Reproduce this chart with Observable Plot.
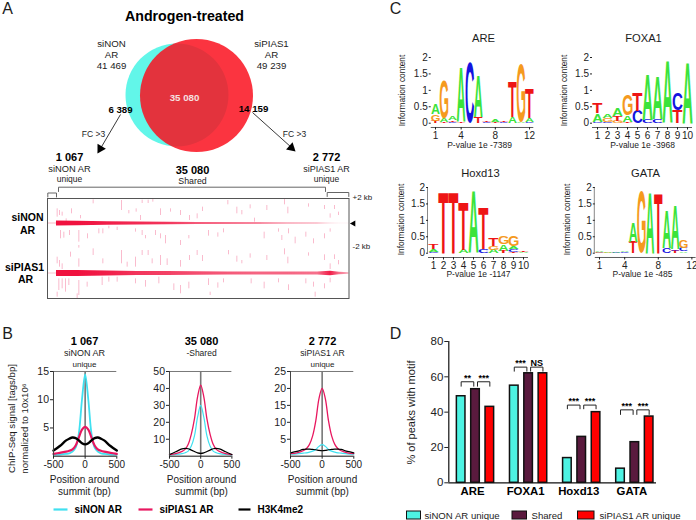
<!DOCTYPE html>
<html><head><meta charset="utf-8">
<style>html,body{margin:0;padding:0;background:#fff}#page{position:relative;width:696px;height:520px;overflow:hidden}</style>
<script src="https://cdn.jsdelivr.net/npm/d3@7"></script>
<script src="https://cdn.jsdelivr.net/npm/@observablehq/plot@0.6"></script>
</head><body><div id="page"></div>
<script>
const FONT = "Liberation Sans, Arial, sans-serif";

// ---- Panel B data: signal around summit
const positions = [-500,-400,-300,-250,-200,-150,-100,-50,0,50,100,150,200,250,300,400,500];
const b1Cyan  = [.3,.3,.4,.5,.8,1.5,4,10,14.5,10,4,1.5,.8,.5,.4,.3,.3];
const b1Pink  = [.4,.6,.8,.95,1.2,1.9,3.3,4.7,5.2,4.7,3.3,1.9,1.2,.95,.8,.6,.4];
const b1Black = [1,1.8,2.8,3.1,3.3,3.2,2.8,2.3,2.1,2.3,2.8,3.2,3.3,3.1,2.8,1.8,1];
const b2Cyan  = [.8,1,1.5,2,3,6,12,23,30,23,12,6,3,2,1.5,1,.8];
const b2Pink  = [.9,1.5,2.8,4,7,13,22,35,42,35,22,13,7,4,2.8,1.5,.9];
const b2Black = [1,2.6,4.3,4.6,4.4,3.6,2.8,2,1.7,2,2.8,3.6,4.4,4.6,4.3,2.6,1];
const b3Cyan  = [.6,.7,.9,1,1.2,1.5,2,2.9,3.4,2.9,2,1.5,1.2,1,.9,.7,.6];
const b3Pink  = [.8,1,1.6,2.2,3.5,6,10.5,17,20,17,10.5,6,3.5,2.2,1.6,1,.8];
const b3Black = [1,1.4,2,2.1,2.1,2,1.9,1.7,1.6,1.7,1.9,2,2.1,2.1,2,1.4,1];

// ---- Panel C data: motif stacks, bottom to top
const logoARE = [
 [["T",.07],["G",.2],["A",.33]],[["T",.05],["A",.1],["G",1.15]],[["C",.05],["T",.05],["A",.12]],
 [["T",.03],["A",1.67]],[["C",1.85]],[["T",.18],["A",1.25]],[["C",.03],["T",.04]],[["T",.04],["A",.06]],
 [["C",.03],["T",.04]],[["A",.2],["T",1.07]],[["A",.05],["G",1.75]],[["C",.05],["A",.12],["T",.9]]];
const logoFOXA1 = [
 [["C",.05],["A",.25],["T",.33]],[["C",.05],["G",.1],["A",.1]],[["G",.08],["T",.15],["A",.22]],
 [["T",.03],["A",.2],["G",.65]],[["C",.38],["T",.55]],[["C",.1],["A",1.4]],[["C",.12],["A",1.3]],
 [["A",1.88]],[["T",.38],["C",.52]],[["A",1.87]]];
const logoHoxd13 = [
 [["C",.05],["A",.08],["T",.17]],[["T",1.85]],[["T",1.85]],[["A",.1],["T",1.48]],[["A",1.88]],
 [["C",.12],["T",1.28]],[["A",.1],["G",.12],["T",.22]],[["T",.07],["A",.2],["G",.22]],
 [["T",.05],["C",.08],["A",.08],["G",.31]],[["A",.03],["T",.03]]];
const logoGATA = [
 [["C",.02],["G",.03],["A",.03]],[["G",.02],["A",.03]],[["C",.02],["A",.02]],[["C",.03],["A",.04]],
 [["T",.35],["A",.58]],[["G",1.88]],[["A",1.85]],[["T",1.83]],[["C",.17],["A",1.15]],
 [["T",.08],["C",.05],["A",1.34]],[["A",.05],["C",.1],["G",.22]]];
const letterColors = {A:"#3BE33B",C:"#1414E0",G:"#F59A1E",T:"#EE1515"};

// ---- Panel D data
const motifs = ["ARE","FOXA1","Hoxd13","GATA"];
const groups = ["siNON AR unique","Shared","siPIAS1 AR unique"];
const groupColors = ["#4DF3E3","#5A1A3E","#FF0000"];
const pctSiNON   = [49,55,14,8];
const pctShared  = [53,62,26,23];
const pctSiPIAS1 = [43,62,40,37.5];
const sigLabels = [["**","***"],["***","NS"],["***","***"],["***","***"]];
const sigTops = [57.2,65.5,44,41.3];
const sigFoots = [54.7,63.2,41.9,38.7];

// ---- Panel A heatmap: streaks [x, top, bottom]
const heatLeft = [
[35,40,65],[42,45,60],[50,50,62],[62,70,78],[78,40,55],[105,60,70],[143,13,25],[228,15,45],[250,45,55],[272,40,50],[285,60,75],[290,14,24],[308,14,24],[322,12,20],[345,40,60],[375,40,50],[405,45,60],[432,60,75],[455,55,70],
[45,105,130],[55,110,128],[72,105,120],[100,105,140],[126,115,130],[160,100,115],[172,100,115],[190,92,100],[215,95,105],[270,100,110],[290,105,120],[300,120,130],[330,105,120],[345,115,130],[360,120,145],[405,135,150],[430,120,130],[100,150,158],
[35,185,205],[42,195,215],[50,205,222],[75,170,185],[100,190,215],[143,160,180],[172,190,205],[228,165,205],[270,185,215],[245,200,215],[290,165,180],[308,165,180],[320,190,205],[345,180,210],[365,190,210],[405,195,215],[432,180,195],[455,165,180],
[40,250,285],[50,250,280],[60,250,290],[70,250,270],[100,255,300],[125,260,275],[170,245,270],[190,245,260],[215,245,260],[270,250,265],[300,255,275],[340,245,265],[385,265,285],[405,270,295],[430,260,280],[95,295,310],[35,290,305]];
const heatRight = [
[12,35,48],[88,15,28],[115,35,55],[130,45,58],[155,28,40],[205,30,45],[258,12,28],[268,35,55],[330,25,35],[378,30,42],[395,55,68],[408,30,42],[420,50,60],[168,68,80],
[30,105,122],[58,112,125],[75,100,112],[197,110,130],[240,100,110],[250,120,135],[270,100,115],[290,125,145],[322,110,125],[345,130,145],[378,115,130],[395,100,110],
[12,180,198],[90,165,178],[115,182,200],[130,195,205],[155,175,188],[205,180,195],[258,160,178],[268,185,205],[330,172,182],[378,178,195],[395,205,222],[408,178,192],[420,195,208],
[30,250,270],[58,262,278],[75,250,262],[158,250,265],[197,260,280],[240,250,262],[270,268,285],[322,250,265],[345,260,275],[378,265,280],[395,248,262],[35,290,300],[350,290,305]];
const bandStops  = [0,8.9,9,30,60,90,120,150,180,210,240,270,283,292,301.5];
const bandHalf1  = [.4,.4,2.6,2.3,1.7,1.4,1.2,1.1,1,.9,.8,.7,.5,.4,.4];
const bandAlpha1 = [.3,.3,1,1,.95,.9,.85,.7,.6,.5,.4,.3,.15,.06,.05];
const bandHalf2  = [.4,.4,3,2.9,2.4,2.1,1.9,1.8,1.6,1.5,1.5,1.4,2.2,1.2,.8];
const bandAlpha2 = [.25,.25,1,1,.95,.85,.8,.75,.7,.65,.65,.6,.95,.6,.35];

// ---- placement helper
const page = document.getElementById("page");
function place(plot, left, top){ plot.style.position="absolute"; plot.style.left=left+"px"; plot.style.top=top+"px"; page.appendChild(plot); return plot; }
const baseStyle = {background:"transparent", fontFamily:FONT, fontSize:"10px", color:"#222", overflow:"visible"};

// ---- Annotation layer (page coordinates)
const labels = [];
const L = (text,x,y,size,kind="regular") => labels.push({text,x,y,size,kind});
L("A",7,8,16); L("B",7,333,16); L("C",395,8,16); L("D",395,333,16);
L("Androgen-treated",184,16,14.2,"bold");
L("siNON",111,43,9.7); L("AR",111,54,9.7); L("41 469",111,65,9.7);
L("siPIAS1",271,43,9.7); L("AR",271,54,9.7); L("49 239",271,65,9.7);
L("6 389",120,109,9.7,"bold"); L("14 159",253,108,9.7,"bold");
L("FC >3",93,134,8.5); L("FC >3",294,134,8.5);
L("1 067",69,157,11,"bold"); L("siNON AR",69,169,9.3); L("unique",69,179,8.5);
L("35 080",192,170,11,"bold"); L("Shared",192,181,8.8);
L("2 772",326,157,11,"bold"); L("siPIAS1 AR",326,169,9); L("unique",326,179,8.5);
L("siNON",27,217,10.5,"bold"); L("AR",27,230,10.5,"bold");
L("siPIAS1",24,267,10.5,"bold"); L("AR",25,279,10.5,"bold");
L("1 067",84,341,11,"bold"); L("siNON AR",84,353,9); L("unique",84,363.5,8);
L("35 080",201,341,11,"bold"); L("-Shared",201,353,8.5);
L("2 772",322,341,11,"bold"); L("siPIAS1 AR",322,353,8.6); L("unique",322,363.5,8);
for (const cx of [84,201,322]) { L("Position around",cx,479,10); L("summit (bp)",cx,491,10); }
L("ARE",483,38,11.2); L("FOXA1",643,38,11.2); L("Hoxd13",480,173,11.2); L("GATA",645,173,11.2);
L("P-value 1e -7389",479,145,8.5); L("P-value 1e -3968",642,145,8.5);
L("P-value 1e -1147",478,274,8.5); L("P-value 1e -485",642,274,8.5);
const startLabels = [
 {text:"+2 kb",x:352,y:197,size:8},{text:"-2 kb",x:352,y:246,size:8},
 {text:"siNON AR",x:74,y:509,size:10,b:1},{text:"siPIAS1 AR",x:159,y:509,size:10,b:1},{text:"H3K4me2",x:257,y:509,size:10,b:1},
 {text:groups[0],x:424,y:515,size:9.6},{text:groups[1],x:531,y:515,size:9.6},{text:groups[2],x:599,y:515,size:9.6}];
const sideLabels = [
 {text:"ChIP-Seq signal [tags/bp]",x:11,y:418,size:9.6},
 {text:"normalized to 10x10⁶",x:24,y:428,size:9.6},
 {text:"Information content",x:402,y:90,size:8.4},{text:"Information content",x:564,y:90,size:8.4},
 {text:"Information content",x:401,y:219,size:8.4},{text:"Information content",x:567,y:219,size:8.4},
 {text:"% of peaks with motif",x:411,y:412,size:11}];

const brackets = [
 [[47.3,196.5],[47.3,192.5],[56,192.5],[56,196.5]],
 [[58,191],[58,186.7],[325,186.7],[325,191]],
 [[326.7,196],[326.7,192],[348.3,192],[348.3,196]]
].flatMap((pts,i)=>pts.map(([x,y])=>({x,y,i})));
const arrowShafts = [{x1:120,y1:114,x2:100,y2:148},{x1:252,y1:112,x2:291,y2:147}];
const arrowHeads = [{x:99.8,y:148.2,a:-149.5},{x:290.9,y:147.2,a:132}];
const legendLines = [
 {x1:53,x2:67,color:"#40E0F0"},{x1:138,x2:152,color:"#E8175F"},{x1:238,x2:250,color:"#000"}];
const legendBoxes = [{x1:406.5,x2:420.5,i:0},{x1:512,x2:526.5,i:1},{x1:577.5,x2:594,i:2}];

const textOpts = {x:"x",y:"y",text:"text",fontSize:d=>d.size,fontFamily:FONT,fill:"#1c1c1c"};
place(Plot.plot({
  width:696,height:520,margin:0,style:baseStyle,axis:null,
  x:{domain:[0,696],range:[0,696]}, y:{domain:[0,520],range:[0,520]},
  marks:[
    Plot.dot([{x:176.5,y:94.5}],{x:"x",y:"y",r:51.5,fill:"#62F6E9"}),
    Plot.dot([{x:196,y:95}],{x:"x",y:"y",r:56.5,fill:"#FA111E",fillOpacity:.85}),
    Plot.text([{x:184,y:97,text:"35 080"}],{x:"x",y:"y",text:"text",fontSize:9.7,fontWeight:"bold",fill:"#f6e0e0",fontFamily:FONT}),
    Plot.link(arrowShafts,{x1:"x1",y1:"y1",x2:"x2",y2:"y2",stroke:"#222",strokeWidth:.9}),
    Plot.dot(arrowHeads,{x:"x",y:"y",symbol:"triangle",r:3.6,rotate:"a",fill:"#000"}),
    Plot.line(brackets,{x:"x",y:"y",z:"i",stroke:"#666",strokeWidth:1,curve:"linear"}),
    Plot.dot([{x:353,y:223}],{x:"x",y:"y",symbol:"triangle",r:2.3,rotate:-90,fill:"#000"}),
    Plot.link(legendLines,{x1:"x1",x2:"x2",y1:()=>509,y2:()=>509,stroke:"color",strokeWidth:2.2}),
    Plot.rect(legendBoxes,{x1:"x1",x2:"x2",y1:()=>511,y2:()=>519,fill:d=>groupColors[d.i],stroke:"#111",strokeWidth:1}),
    Plot.text(labels.filter(d=>d.kind==="regular"),textOpts),
    Plot.text(labels.filter(d=>d.kind==="bold"),{...textOpts,fontWeight:"bold",fill:"#000"}),
    Plot.text(startLabels.filter(d=>!d.b),{...textOpts,textAnchor:"start"}),
    Plot.text(startLabels.filter(d=>d.b),{...textOpts,textAnchor:"start",fontWeight:"bold",fill:"#000"}),
    Plot.text(sideLabels,{...textOpts,rotate:-90})
  ]
}),0,0);

// ---- Panel A heatmap
const toStreak = (offset)=>([x,t,b])=>({x:x/3+offset,y1:t/3-3,y2:b/3-3});
const streaks = [...heatLeft.map(toStreak(-2)),...heatRight.map(toStreak(151))];
const bandRows = (c,half)=>half.map((h,i)=>({x:bandStops[i],y1:c-h,y2:c+h}));
const bandGradient = (id,alpha)=>()=>{
  const defs=d3.create("svg:defs"), g=defs.append("linearGradient").attr("id",id);
  alpha.forEach((a,i)=>g.append("stop").attr("offset",bandStops[i]/301.5).attr("stop-color","#F0123F").attr("stop-opacity",a));
  return defs.node();
};
const heat = place(Plot.plot({
  width:304,height:102,marginLeft:1,marginRight:1.5,marginTop:1,marginBottom:1,style:baseStyle,axis:null,
  x:{domain:[0,301.5]}, y:{domain:[100,0]},
  marks:[
    bandGradient("band1",bandAlpha1), bandGradient("band2",bandAlpha2),
    Plot.ruleX(streaks,{x:"x",y1:"y1",y2:"y2",stroke:"#EE2D64",strokeOpacity:.32,strokeWidth:1}),
    Plot.areaY(bandRows(25,bandHalf1),{x:"x",y1:"y1",y2:"y2",fill:"url(#band1)"}),
    Plot.areaY(bandRows(75,bandHalf2),{x:"x",y1:"y1",y2:"y2",fill:"url(#band2)"}),
    Plot.frame({stroke:"#555",strokeWidth:1})
  ]
}),46,197);
heat.querySelectorAll('g[aria-label="area"], g[aria-label="rule"]').forEach(g=>{g.style.filter="blur(0.5px)";});

// ---- Panel B
function signalPlot(left,width,top,cyan,pink,black,ticks,lw){
  const rows=(vals)=>vals.map((v,i)=>({pos:positions[i],v}));
  const line=(vals,color,sw)=>Plot.line(rows(vals),{x:"pos",y:"v",stroke:color,strokeWidth:sw,curve:"catmull-rom"});
  return place(Plot.plot({
    width:width+30,height:110,marginLeft:25,marginRight:5,marginTop:5,marginBottom:20.3,style:baseStyle,
    x:{domain:[-500,500]}, y:{domain:[0,top]},
    marks:[
      Plot.ruleY([top],{stroke:"#777",strokeWidth:1}),
      Plot.ruleX([0],{stroke:"#777",strokeWidth:1.6}),
      line(cyan,"#40E0F0",lw[0]),line(pink,"#E8175F",lw[1]),line(black,"#000",lw[2]),
      Plot.ruleX([-500],{stroke:"#444",strokeWidth:1}),
      Plot.ruleY([0],{stroke:"#111",strokeWidth:1}),
      Plot.axisY({ticks,tickSize:3,tickPadding:1.5,label:null,fontSize:10.5,tickFormat:d=>String(d)}),
      Plot.axisX({ticks:[-500,0,500],tickSize:3,tickPadding:2,label:null,fontSize:10,tickFormat:d=>String(d)})
    ]
  }),left-25,365.7);
}
signalPlot(52.7,63.3,15,b1Cyan,b1Pink,b1Black,[5,10,15],[1.8,2.2,2.4]);
signalPlot(169.3,62.4,50,b2Cyan,b2Pink,b2Black,[10,20,30,40,50],[1.2,1.3,1.2]);
signalPlot(290,63.3,25,b3Cyan,b3Pink,b3Black,[5,10,15,20,25],[1.2,1.3,1.2]);

// ---- Panel C
const inkCtx = document.createElement("canvas").getContext("2d");
inkCtx.font = "bold 100px 'Liberation Sans'";
function logoPlot(stacks,{first,step,left,zero,two,ticks,yLine}){
  const cells=[];
  stacks.forEach((stack,p)=>{let y=0;for(const [letter,h] of stack){cells.push({pos:p+1,letter,y0:y,y1:y+h});y+=h;}});
  const pxPerUnit=(zero-two)/2, floor=-4.3/pxPerUnit;
  const n=ticks[ticks.length-1];
  const frameLeft=first-step/2, frameW=step*n;
  const box=left;
  const plot=Plot.plot({
    width:frameLeft-box+frameW+6,height:(zero-two)+5+4.3+16,marginLeft:frameLeft-box,marginRight:6,marginTop:5,marginBottom:16,
    style:baseStyle,
    x:{domain:[.5,n+.5]}, y:{domain:[floor,2]},
    color:{domain:Object.keys(letterColors),range:Object.values(letterColors)},
    marks:[
      Plot.text(cells,{x:"pos",y:"y0",text:"letter",fill:"letter",fontSize:100,fontWeight:"bold",fontFamily:"Liberation Sans",textAnchor:"start"}),
      ...(yLine?[Plot.ruleX([.5],{dx:-1,y1:0,y2:2,stroke:"#555",strokeWidth:.7})]:[]),
      Plot.ruleY([floor],{stroke:"#333",strokeWidth:.8}),
      Plot.axisY({ticks:[0,.5,1,1.5,2],tickSize:2,tickPadding:1.5,label:null,fontSize:10,tickFormat:d=>String(d)}),
      Plot.axisX({ticks,tickSize:2.5,tickPadding:1.5,label:null,fontSize:10,tickFormat:d=>String(d)})
    ]
  });
  const sx=plot.scale("x"), sy=plot.scale("y");
  plot.querySelectorAll('g[aria-label="text"] text').forEach((el,i)=>{
    const c=cells[i], m=inkCtx.measureText(c.letter);
    const x0=sx.apply(c.pos-.5), x1=sx.apply(c.pos+.5), yb=sy.apply(c.y0), yt=sy.apply(c.y1);
    const kx=(x1-x0)/(m.actualBoundingBoxRight+m.actualBoundingBoxLeft);
    const ky=(yb-yt)/(m.actualBoundingBoxAscent+m.actualBoundingBoxDescent);
    ["x","y","dy"].forEach(a=>el.removeAttribute(a));
    el.setAttribute("transform",`translate(${x0+m.actualBoundingBoxLeft*kx},${yb-m.actualBoundingBoxDescent*ky}) scale(${kx},${ky})`);
  });
  return place(plot,box,two-5);
}
const twelve=[1,4,8,12], ten=[1,2,3,4,5,6,7,8,9,10];
logoPlot(logoARE,{first:435,step:8.55,left:408,zero:122.7,two:57,ticks:twelve});
logoPlot(logoFOXA1,{first:597,step:10,left:570,zero:122.7,two:57,ticks:ten});
logoPlot(logoHoxd13,{first:433,step:10,left:406,zero:252.7,two:187,ticks:ten,yLine:true});
logoPlot(logoGATA,{first:599,step:8.4,left:572,zero:252.7,two:187,ticks:twelve,yLine:true});

// ---- Panel D
const GROUP_STEP=3.706, pctSeries=[pctSiNON,pctShared,pctSiPIAS1];
const barRows=motifs.flatMap((m,g)=>groups.map((s,i)=>({motif:m,group:s,value:pctSeries[i][g],u:g*GROUP_STEP+i})));
const bracketRows=motifs.flatMap((m,g)=>[[0,.88,0],[1.14,2,1]].flatMap(([a,b,k])=>[
  {u:g*GROUP_STEP+a,v:sigFoots[g],id:g+"-"+k},{u:g*GROUP_STEP+a,v:sigTops[g],id:g+"-"+k},
  {u:g*GROUP_STEP+b,v:sigTops[g],id:g+"-"+k},{u:g*GROUP_STEP+b,v:sigFoots[g],id:g+"-"+k}]));
const sigRows=motifs.flatMap((m,g)=>[0,1].map(k=>({u:g*GROUP_STEP+(k?1.57:.44),v:sigTops[g]+2.3,t:sigLabels[g][k]})));
place(Plot.plot({
  width:240,height:175,marginLeft:30.3,marginRight:2,marginTop:11,marginBottom:22.7,style:baseStyle,
  x:{domain:[-.863,13.63]}, y:{domain:[0,80]},
  color:{domain:groups,range:groupColors},
  marks:[
    Plot.rectY(barRows,{x1:d=>d.u-.3,x2:d=>d.u+.3,y:"value",fill:"group",stroke:"#111",strokeWidth:1.5}),
    Plot.line(bracketRows,{x:"u",y:"v",z:"id",stroke:"#222",strokeWidth:1}),
    Plot.text(sigRows,{x:"u",y:"v",text:"t",fontSize:9,fontWeight:"bold",fontFamily:FONT,fill:"#000"}),
    Plot.ruleY([0],{stroke:"#111",strokeWidth:1.2}),
    Plot.ruleX([-.863],{stroke:"#111",strokeWidth:1.2}),
    Plot.axisY({ticks:[0,20,40,60,80],tickSize:4,tickPadding:1.5,label:null,fontSize:11.5,tickFormat:d=>String(d)}),
    Plot.axisX({ticks:motifs.map((m,g)=>g*GROUP_STEP+1),tickSize:0,tickPadding:4,label:null,fontSize:11.4,fontWeight:"bold",fill:"#000",dx:-3,tickFormat:(d,i)=>motifs[i]})
  ]
}),418,330);
</script></body></html>
